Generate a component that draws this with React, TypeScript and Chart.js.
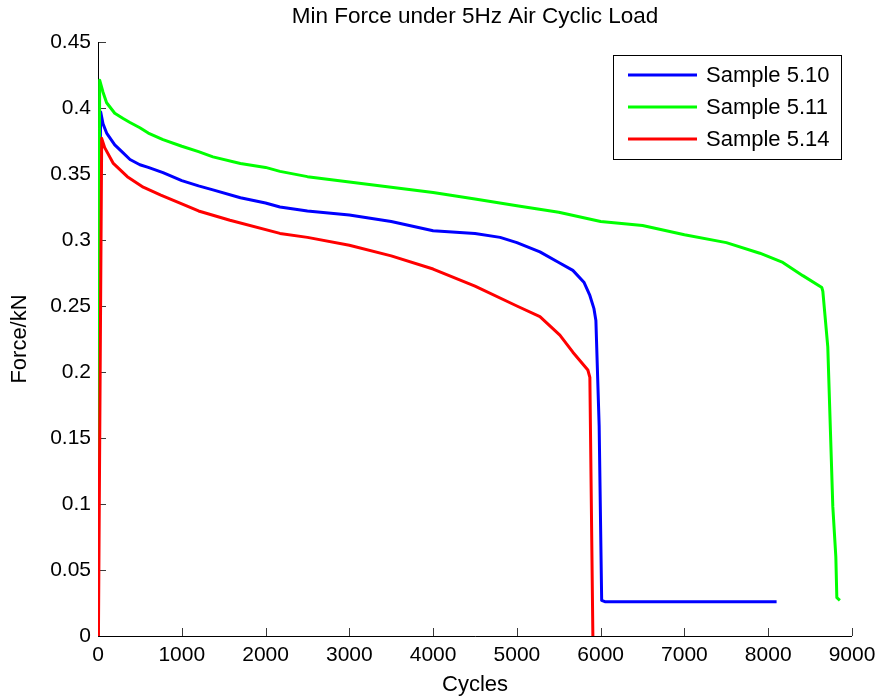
import React, { useEffect, useRef } from "react";
import { Chart, registerables } from "chart.js";

Chart.register(...registerables);

const TITLE = "Min Force under 5Hz Air Cyclic Load";
const X_LABEL = "Cycles";
const Y_LABEL = "Force/kN";
const X_TICKS = [0, 1000, 2000, 3000, 4000, 5000, 6000, 7000, 8000, 9000];
const Y_TICKS = [0, 0.05, 0.1, 0.15, 0.2, 0.25, 0.3, 0.35, 0.4, 0.45];
const SERIES_NAMES = ["Sample 5.10", "Sample 5.11", "Sample 5.14"];
const SERIES_COLORS = ["#0000ff", "#00ff00", "#ff0000"];

const cycles510 = [0, 15, 32, 60, 103, 200, 300, 382, 500, 600, 776, 1000, 1200, 1372, 1700, 2000, 2172, 2500, 3000, 3500, 4000, 4500, 4800, 5000, 5275, 5500, 5668, 5800, 5871, 5920, 5943, 5982, 6012, 6050, 6500, 7000, 7500, 8000, 8100];
const force510 = [0, 0.3, 0.397, 0.388, 0.381, 0.372, 0.366, 0.361, 0.357, 0.355, 0.351, 0.345, 0.341, 0.338, 0.332, 0.328, 0.325, 0.322, 0.319, 0.314, 0.307, 0.305, 0.302, 0.298, 0.291, 0.283, 0.277, 0.268, 0.258, 0.248, 0.239, 0.159, 0.027, 0.026, 0.026, 0.026, 0.026, 0.026, 0.026];

const cycles511 = [0, 20, 60, 103, 200, 300, 382, 500, 600, 776, 1000, 1200, 1372, 1700, 2000, 2172, 2500, 3000, 3500, 4000, 4500, 5000, 5500, 6000, 6500, 7000, 7500, 7900, 8174, 8413, 8640, 8652, 8711, 8771, 8807, 8819, 8855];
const force511 = [0, 0.421, 0.412, 0.404, 0.396, 0.392, 0.389, 0.385, 0.381, 0.376, 0.371, 0.367, 0.363, 0.358, 0.355, 0.352, 0.348, 0.344, 0.34, 0.336, 0.331, 0.326, 0.321, 0.314, 0.311, 0.304, 0.298, 0.29, 0.283, 0.273, 0.264, 0.261, 0.219, 0.098, 0.06, 0.029, 0.027];

const cycles514 = [5, 44, 80, 183, 350, 540, 750, 979, 1200, 1575, 2172, 2500, 3000, 3500, 4000, 4500, 5000, 5275, 5513, 5668, 5847, 5871, 5907];
const force514 = [0, 0.377, 0.37, 0.358, 0.348, 0.34, 0.334, 0.328, 0.322, 0.315, 0.305, 0.302, 0.296, 0.288, 0.278, 0.265, 0.25, 0.242, 0.228, 0.215, 0.2015, 0.196, 0];

const SERIES_X = [cycles510, cycles511, cycles514];
const SERIES_Y = [force510, force511, force514];

const FONT = "'Liberation Sans', Arial, Helvetica, sans-serif";

const axesPlugin = {
  id: "matlabAxes",
  beforeDatasetsDraw(chart: any) {
    const { ctx, chartArea, scales } = chart;
    const xs = scales.x;
    const ys = scales.y;
    ctx.save();
    ctx.strokeStyle = "#3a3a3a";
    ctx.lineWidth = 1;
    ctx.beginPath();
    xs.ticks.forEach((t: any) => {
      const px = Math.round(xs.getPixelForValue(t.value)) + 0.5;
      ctx.moveTo(px, chartArea.bottom);
      ctx.lineTo(px, chartArea.bottom - 8);
    });
    ys.ticks.forEach((t: any) => {
      const py = Math.round(ys.getPixelForValue(t.value)) + 0.5;
      ctx.moveTo(chartArea.left, py);
      ctx.lineTo(chartArea.left + 8, py);
    });
    ctx.stroke();
    ctx.strokeStyle = "#000";
    ctx.beginPath();
    const l = Math.round(chartArea.left) + 0.5;
    const b = Math.round(chartArea.bottom) + 0.5;
    ctx.moveTo(l, chartArea.top);
    ctx.lineTo(l, b);
    ctx.lineTo(chartArea.right, b);
    ctx.stroke();
    ctx.restore();
  },
};

const legendPlugin = {
  id: "boxLegend",
  afterDatasetsDraw(chart: any) {
    const { ctx, chartArea } = chart;
    const w = 228;
    const h = 104;
    const x0 = Math.round(chartArea.right - 11 - w);
    const y0 = Math.round(chartArea.top + 13);
    ctx.save();
    ctx.fillStyle = "#fff";
    ctx.fillRect(x0, y0, w, h);
    ctx.strokeStyle = "#000";
    ctx.lineWidth = 1;
    ctx.strokeRect(x0 + 0.5, y0 + 0.5, w, h);
    chart.data.datasets.forEach((ds: any, i: number) => {
      const y = y0 + 20 + i * 32;
      ctx.strokeStyle = ds.borderColor;
      ctx.lineWidth = 3;
      ctx.beginPath();
      ctx.moveTo(x0 + 15, y);
      ctx.lineTo(x0 + 84, y);
      ctx.stroke();
      ctx.fillStyle = "#000";
      ctx.font = `22px ${FONT}`;
      ctx.textBaseline = "middle";
      ctx.textAlign = "left";
      ctx.fillText(ds.label, x0 + 93, y + 1);
    });
    ctx.restore();
  },
};

export default function App() {
  const ref = useRef<HTMLCanvasElement | null>(null);
  useEffect(() => {
    if (!ref.current) return;
    const datasets = SERIES_NAMES.map((name, i) => ({
      label: name,
      data: SERIES_X[i].map((x, j) => ({ x, y: SERIES_Y[i][j] })),
      borderColor: SERIES_COLORS[i],
      backgroundColor: SERIES_COLORS[i],
      borderWidth: 3,
      pointRadius: 0,
      tension: 0,
      fill: false,
      borderJoinStyle: "round" as const,
      order: SERIES_NAMES.length - i,
    }));
    const chart = new Chart(ref.current, {
      type: "line",
      data: { datasets },
      plugins: [axesPlugin, legendPlugin],
      options: {
        animation: false,
        responsive: false,
        maintainAspectRatio: false,
        layout: { padding: { left: 0, right: 26, top: 0, bottom: 0 } },
        plugins: {
          legend: { display: false },
          tooltip: { enabled: false },
          title: {
            display: true,
            text: TITLE,
            fullSize: false,
            color: "#000",
            font: { family: FONT, size: 22.5, weight: "normal" },
            padding: { top: 3, bottom: 12 },
          },
        },
        scales: {
          x: {
            type: "linear",
            min: 0,
            max: 9000,
            afterBuildTicks: (s: any) => {
              s.ticks = X_TICKS.map((v) => ({ value: v }));
            },
            afterFit: (s: any) => {
              s.height = 62;
              s.paddingLeft = 0;
              s.paddingRight = 0;
            },
            grid: { display: false, drawTicks: false },
            border: { display: false },
            ticks: {
              autoSkip: false,
              maxRotation: 0,
              padding: 7,
              color: "#000",
              font: { family: FONT, size: 21 },
              callback: (v: any) => String(v),
            },
            title: {
              display: true,
              text: X_LABEL,
              color: "#000",
              font: { family: FONT, size: 22 },
              padding: { top: 0, bottom: 0 },
            },
          },
          y: {
            type: "linear",
            min: 0,
            max: 0.45,
            afterBuildTicks: (s: any) => {
              s.ticks = Y_TICKS.map((v) => ({ value: v }));
            },
            afterFit: (s: any) => {
              s.width = 98;
              s.paddingTop = 0;
              s.paddingBottom = 0;
            },
            grid: { display: false, drawTicks: false },
            border: { display: false },
            ticks: {
              autoSkip: false,
              padding: 7,
              color: "#000",
              font: { family: FONT, size: 21 },
              callback: (v: any) => String(Number(Number(v).toFixed(2))),
            },
            title: {
              display: true,
              text: Y_LABEL,
              color: "#000",
              font: { family: FONT, size: 22 },
              padding: { top: 7, bottom: 0 },
            },
          },
        },
      },
    });
    return () => chart.destroy();
  }, []);
  return (
    <div style={{ position: "absolute", left: 0, top: 0, width: 878, height: 698, background: "#fff" }}>
      <canvas ref={ref} width={878} height={698} style={{ display: "block", width: 878, height: 698 }} />
    </div>
  );
}
